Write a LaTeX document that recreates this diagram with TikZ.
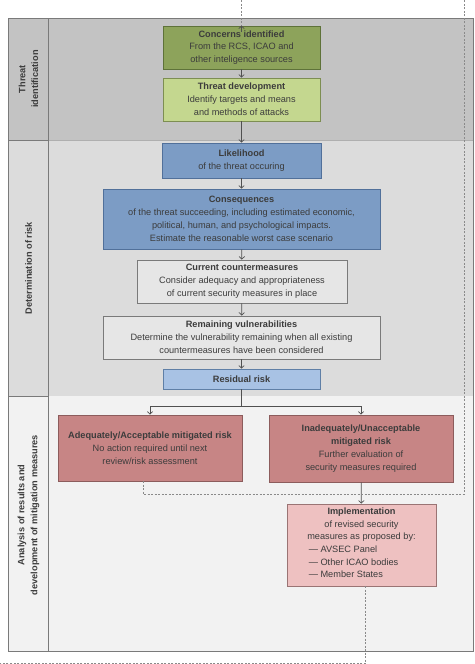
\documentclass[tikz,border=0pt]{standalone}
\usepackage{fontspec}
\setmainfont{Liberation Sans}
\usetikzlibrary{arrows.meta}
\definecolor{bandA}{HTML}{C3C3C3}
\definecolor{bandB}{HTML}{DCDCDC}
\definecolor{bandC}{HTML}{F2F2F2}
\definecolor{frameC}{HTML}{7A7A7A}
\definecolor{txtC}{HTML}{3C3C3C}
\definecolor{gDark}{HTML}{8DA35B}
\definecolor{gDarkB}{HTML}{5E7239}
\definecolor{gLight}{HTML}{C4D78F}
\definecolor{gLightB}{HTML}{7D8E52}
\definecolor{bMid}{HTML}{7C9CC5}
\definecolor{bMidB}{HTML}{51709A}
\definecolor{bLight}{HTML}{A8C2E4}
\definecolor{bLightB}{HTML}{5F7FA6}
\definecolor{grayBox}{HTML}{E6E6E6}
\definecolor{rose}{HTML}{C78585}
\definecolor{roseB}{HTML}{8C5C5C}
\definecolor{pink}{HTML}{EEC1C1}
\definecolor{pinkB}{HTML}{9A7474}
\definecolor{dashC}{HTML}{8A8A8A}
\definecolor{arrC}{HTML}{505050}
\begin{document}
\begin{tikzpicture}[x=1pt,y=-1pt,
  box/.style={draw, line width=0.8pt, align=center, inner sep=2pt, text=txtC,
    font=\fontsize{9.2}{12.8}\selectfont},
  lbl/.style={rotate=90, align=center, text=txtC, font=\fontsize{9.2}{12.8}\selectfont\bfseries},
  arr/.style={draw=arrC, line width=0.7pt, -{Straight Barb[length=2.6pt,width=5.5pt]}},
  con/.style={draw=arrC, line width=0.7pt},
  dsh/.style={draw=dashC, line width=0.7pt, dash pattern=on 2pt off 1.5pt},
  frm/.style={draw=frameC, line width=0.8pt}]
\useasboundingbox (0,0) rectangle (474,664);
% bands
\fill[bandA] (8,18) rectangle (473,140);
\fill[bandB] (8,140) rectangle (473,396);
\fill[bandC] (8,396) rectangle (473,651);
\draw[frm] (8,140) -- (48,140);
\draw[frm] (8,396) -- (48,396);
\draw[draw=frameC!60, line width=0.5pt] (48,140) -- (473,140);
\draw[frm] (48,18) -- (48,651);
\draw[frm] (8,18) rectangle (473,651);
% labels
\node[lbl] (l1) at (28.5,79) {Threat\\identification};
\node[lbl] (l2) at (28.5,268) {Determination of risk};
\node[lbl] (l3) at (28.5,515) {Analysis of results and\\development of mitigation measures};
% boxes
\node[box, fill=gDark, draw=gDarkB, minimum width=157pt, minimum height=43pt] (concerns) at (241.5,47.5)
  {\textbf{Concerns identified}\\From the RCS, ICAO and\\other inteligence sources};
\node[box, fill=gLight, draw=gLightB, minimum width=157pt, minimum height=43pt] (threatdev) at (241.5,99.5)
  {\textbf{Threat development}\\Identify targets and means\\and methods of attacks};
\node[box, fill=bMid, draw=bMidB, minimum width=159pt, minimum height=35pt] (likely) at (241.5,160.5)
  {\textbf{Likelihood}\\of the threat occuring};
\node[box, fill=bMid, draw=bMidB, minimum width=277pt, minimum height=60pt] (conseq) at (241.5,219)
  {\textbf{Consequences}\\of the threat succeeding, including estimated economic,\\political, human, and psychological impacts.\\Estimate the reasonable worst case scenario};
\node[box, fill=grayBox, draw=frameC, minimum width=210pt, minimum height=43pt] (current) at (242,281.5)
  {\textbf{Current countermeasures}\\Consider adequacy and appropriateness\\of current security measures in place};
\node[box, fill=grayBox, draw=frameC, minimum width=277pt, minimum height=43pt] (remain) at (241.5,337.5)
  {\textbf{Remaining vulnerabilities}\\Determine the vulnerability remaining when all existing\\countermeasures have been considered};
\node[box, fill=bLight, draw=bLightB, minimum width=157pt, minimum height=20pt] (resid) at (241.5,379)
  {\textbf{Residual risk}};
\node[box, fill=rose, draw=roseB, minimum width=184pt, minimum height=66pt] (adeq) at (150,448)
  {\textbf{Adequately/Acceptable mitigated risk}\\No action required until next\\review/risk assessment};
\node[box, fill=rose, draw=roseB, minimum width=184pt, minimum height=67pt] (inadeq) at (361,448.5)
  {\textbf{Inadequately/Unacceptable}\\\textbf{mitigated risk}\\Further evaluation of\\security measures required};
\node[box, fill=pink, draw=pinkB, minimum width=149pt, minimum height=82pt] (impl) at (361.5,545)
  {\textbf{Implementation}\\of revised security\\\begin{tabular}{@{}l@{}}measures as proposed by:\\\,— AVSEC Panel\\\,— Other ICAO bodies\\\,— Member States\end{tabular}};
% coordinates
\coordinate (topin) at (241.5,0);
\coordinate (branch) at (241.5,406);
\coordinate (adqd) at (143,481);
\coordinate (loopL) at (143,494);
\coordinate (loopR) at (464,494);
\coordinate (loopT) at (464,0);
\coordinate (impld) at (365.5,586);
\coordinate (botR) at (365.5,663);
\coordinate (botL) at (0,663);
% connectors
\draw[dsh] (topin) -- (concerns.north);
\draw[arr] ([yshift=-6pt]concerns.north) -- (concerns.north);
\draw[arr] (concerns) -- (threatdev);
\draw[arr] (threatdev) -- (likely);
\draw[arr] (likely) -- (conseq);
\draw[arr] (conseq) -- (current);
\draw[arr] (current) -- (remain);
\draw[arr] (remain) -- (resid);
\draw[con] (resid) -- (branch);
\draw[arr] (branch) -| (adeq.north);
\draw[arr] (branch) -| (inadeq.north);
\draw[arr] (inadeq) -- (impl);
\draw[dsh] (adqd) -- (loopL) -- (loopR) -- (loopT);
\draw[dsh] (impld) -- (botR) -- (botL);
\end{tikzpicture}
\end{document}
